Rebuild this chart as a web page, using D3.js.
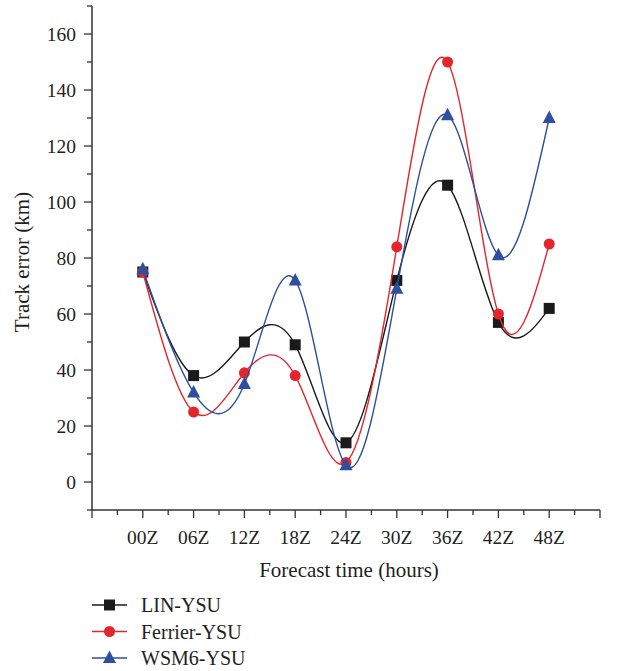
<!DOCTYPE html>
<html>
<head>
<meta charset="utf-8">
<script src="https://cdn.jsdelivr.net/npm/d3@7"></script>
<style>
  body { margin: 0; background: #fff; }
  text { font-family: "Liberation Serif", "DejaVu Serif", serif; fill: #231f20; }
</style>
</head>
<body>
<div class="canvas"></div>
<script>
// data
const times = ["00Z", "06Z", "12Z", "18Z", "24Z", "30Z", "36Z", "42Z", "48Z"];
const linYSU = [75, 38, 50, 49, 14, 72, 106, 57, 62];
const ferrierYSU = [75, 25, 39, 38, 7, 84, 150, 60, 85];
const wsm6YSU = [76, 32, 35, 72, 6, 69, 131, 81, 130];
const seriesNames = ["LIN-YSU", "Ferrier-YSU", "WSM6-YSU"];
const yTicks = [0, 20, 40, 60, 80, 100, 120, 140, 160];

const series = [
  {name: seriesNames[0], values: linYSU, color: "#1a1a1a", shape: "square"},
  {name: seriesNames[1], values: ferrierYSU, color: "#e3262d", shape: "circle"},
  {name: seriesNames[2], values: wsm6YSU, color: "#2e4f9e", shape: "triangle"}
];

const width = 617, height = 671;
const svg = d3.select(".canvas").append("svg")
    .attr("width", width)
    .attr("height", height);

//scales
const x = d3.scaleLinear().domain([-1, 9]).range([92, 600]);
const y = d3.scaleLinear().domain([-10, 170]).range([510, 6]);

const axisColor = "#333";

//y axis
const yAxis = svg.append("g").attr("transform", "translate(92,0)");
yAxis.append("line")
    .attr("x1", 0).attr("x2", 0)
    .attr("y1", y(170)).attr("y2", y(-10))
    .attr("stroke", axisColor).attr("stroke-width", 1.5);
d3.range(-10, 171, 10).forEach(v => {
  const major = v % 20 === 0 && v >= 0;
  yAxis.append("line")
      .attr("x1", major ? -8 : -5).attr("x2", 0)
      .attr("y1", y(v)).attr("y2", y(v))
      .attr("stroke", axisColor).attr("stroke-width", 1.3);
});
yAxis.selectAll(".ylab")
    .data(yTicks)
    .enter().append("text")
    .attr("x", -16)
    .attr("y", d => y(d))
    .attr("dy", "0.35em")
    .attr("text-anchor", "end")
    .style("font-size", "19.5px")
    .text(d => d);

//x axis
const xAxis = svg.append("g").attr("transform", "translate(0,510)");
xAxis.append("line")
    .attr("x1", x(-1)).attr("x2", x(9))
    .attr("y1", 0).attr("y2", 0)
    .attr("stroke", axisColor).attr("stroke-width", 1.5);
d3.range(-1, 9.01, 0.5).forEach(v => {
  const major = Number.isInteger(v);
  xAxis.append("line")
      .attr("x1", x(v)).attr("x2", x(v))
      .attr("y1", 0).attr("y2", major ? 8 : 5)
      .attr("stroke", axisColor).attr("stroke-width", 1.3);
});
xAxis.selectAll(".xlab")
    .data(times)
    .enter().append("text")
    .attr("x", (d, i) => x(i))
    .attr("y", 34)
    .attr("text-anchor", "middle")
    .style("font-size", "19.5px")
    .text(d => d);

//axis titles
svg.append("text")
    .attr("x", 349)
    .attr("y", 577)
    .attr("text-anchor", "middle")
    .style("font-size", "21px")
    .text("Forecast time (hours)");
svg.append("text")
    .attr("transform", `translate(29, 262) rotate(-90)`)
    .attr("text-anchor", "middle")
    .style("font-size", "21px")
    .text("Track error (km)");

//markers
function drawMarker(g, shape, cx, cy, color) {
  if (shape === "square") {
    g.append("rect")
        .attr("x", cx - 5.5).attr("y", cy - 5.5)
        .attr("width", 11).attr("height", 11)
        .attr("fill", color);
  } else if (shape === "circle") {
    g.append("circle")
        .attr("cx", cx).attr("cy", cy).attr("r", 5.5)
        .attr("fill", color);
  } else {
    g.append("path")
        .attr("d", `M${cx},${cy - 7.5}L${cx + 6.5},${cy + 5}L${cx - 6.5},${cy + 5}Z`)
        .attr("fill", color);
  }
}

const line = d3.line()
    .x((d, i) => x(i))
    .y(d => y(d))
    .curve(d3.curveNatural);

series.forEach(s => {
  const g = svg.append("g");
  g.append("path")
      .attr("d", line(s.values))
      .attr("fill", "none")
      .attr("stroke", s.color)
      .attr("stroke-width", 1.4);
  s.values.forEach((v, i) => drawMarker(g, s.shape, x(i), y(v), s.color));
});

//legend
series.forEach((s, i) => {
  const ly = 605 + i * 26.5;
  const g = svg.append("g");
  g.append("line")
      .attr("x1", 92).attr("x2", 127)
      .attr("y1", ly).attr("y2", ly)
      .attr("stroke", s.color).attr("stroke-width", 1.4);
  drawMarker(g, s.shape, 109.5, ly, s.color);
  g.append("text")
      .attr("x", 141)
      .attr("y", ly)
      .attr("dy", "0.35em")
      .style("font-size", "20px")
      .text(s.name);
});
</script>
</body>
</html>
